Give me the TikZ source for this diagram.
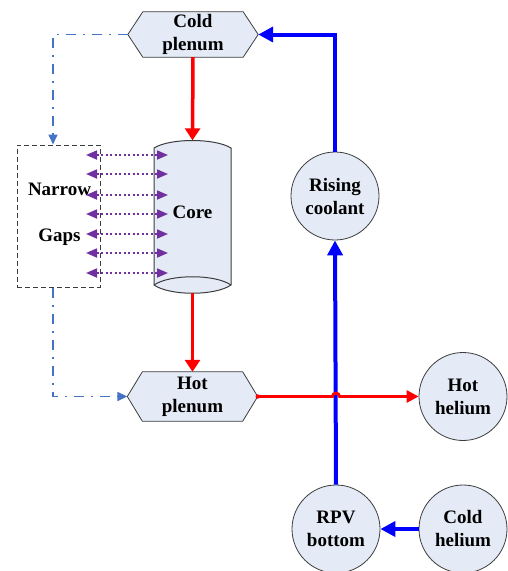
\documentclass[tikz,border=0pt]{standalone}
\usepackage{fontspec}
\setmainfont{Liberation Serif}
\usetikzlibrary{arrows.meta,calc,backgrounds}
\definecolor{nodefill}{RGB}{228,235,246}
\definecolor{edgegrey}{RGB}{60,60,60}
\definecolor{gapblue}{RGB}{68,114,196}
\definecolor{gappurple}{RGB}{112,48,160}
\definecolor{pureblue}{RGB}{0,0,255}
\definecolor{purered}{RGB}{255,0,0}
\begin{document}
\begin{tikzpicture}[x=1pt,y=-1pt,
  lbl/.style={font=\fontsize{19}{23}\selectfont\bfseries, align=center, inner sep=0pt},
  ball/.style={circle, draw=edgegrey, fill=nodefill, line width=0.8pt, minimum size=88pt, lbl},
  hexbox/.style={minimum width=130pt, minimum height=#1, lbl},
  hexline/.style={draw=edgegrey, fill=nodefill, line width=0.8pt},
  redflow/.style={draw=purered, line width=3.5pt, -{Triangle[length=12pt,width=15pt]}},
  blueflow/.style={draw=pureblue, line width=4pt, -{Triangle[length=15pt,width=15pt]}},
  gapflow/.style={draw=gapblue, line width=1.6pt, dash pattern=on 10pt off 7pt on 2pt off 7pt, -{Triangle[length=10pt,width=9pt]}},
  gaparrow/.style={draw=gappurple, line width=1.7pt, dash pattern=on 2pt off 2.5pt, {Triangle[length=11pt,width=9pt]}-{Triangle[length=11pt,width=9pt]}}
]
\useasboundingbox (0,0) rectangle (508,571);

% nodes
\node[hexbox=45pt] (cp) at (193,34.5) {Cold\\plenum};
\node[hexbox=49pt] (hp) at (192.5,396.5) {Hot\\plenum};
\node[minimum width=77pt, minimum height=152.5pt, inner sep=0pt] (core) at (192.5,216.75) {};
\node[lbl] (corelbl) at (192.5,212) {Core};
\node[draw=edgegrey, dash pattern=on 5pt off 3pt, line width=1pt, minimum width=83pt, minimum height=142pt, inner sep=0pt] (ng) at (58.5,216) {};
\node[lbl] (ngl) at (59.5,214) {Narrow\\[23pt]Gaps};
\node[ball] (rc) at (335,196) {Rising\\coolant};
\node[ball] (rpv) at (336,529) {RPV\\bottom};
\node[ball] (ch) at (463,529) {Cold\\helium};
\node[ball] (hh) at (463,396.5) {Hot\\helium};

% shapes behind text
\begin{scope}[on background layer]
  \foreach \n in {cp,hp}{
    \draw[hexline] (\n.west) -- ($(\n.north west)+(15,0)$) -- ($(\n.north east)+(-15,0)$)
      -- (\n.east) -- ($(\n.south east)+(-15,0)$) -- ($(\n.south west)+(15,0)$) -- cycle;
  }
  \fill[nodefill] (154,148) .. controls (170,138) and (215,138) .. (231,148)
     -- (231,285) .. controls (215,296) and (170,296) .. (154,285) -- cycle;
  \draw[edgegrey, line width=1pt] (154,148) .. controls (170,138) and (215,138) .. (231,148)
     -- (231,285) .. controls (215,296) and (170,296) .. (154,285) -- cycle;
  \draw[edgegrey, line width=1pt] (154,285) .. controls (170,274) and (215,274) .. (231,285);
\end{scope}

% red main flow
\draw[redflow] (cp.south) -- (core.north);
\draw[redflow] (core.south) -- (hp.north);

% blue flow
\draw[blueflow] (ch.west) -- (rpv.east);
\draw[blueflow] (rpv.north) -- (rc.south);
\draw[blueflow] (rc.north) |- (cp.east);

% hot helium line with hop over the blue line
\coordinate (cross) at (rpv.north |- hp.east);
\draw[draw=purered, line width=2.8pt, -{Triangle[length=12pt,width=12pt]}]
  (hp.east) -- ($(cross)+(-3.5,0)$) arc[start angle=180, end angle=0, radius=3.5pt] -- (hh.west |- hp.east);
\fill[purered] (hp.east) circle[radius=2.2pt];

% dash-dot bypass via narrow gaps
\coordinate (gx) at (53,0);
\coordinate (ngtop) at (gx |- ng.north);
\coordinate (ngbot) at (gx |- ng.south);
\draw[gapflow] (cp.west) -| (ngtop);
\draw[gapflow] (ngbot) |- (hp.west);

% narrow gap exchange arrows
\foreach \yy in {155,174,195,214,234,253,273}{
  \draw[gaparrow] (86,\yy) -- (168,\yy);
}
\end{tikzpicture}
\end{document}
